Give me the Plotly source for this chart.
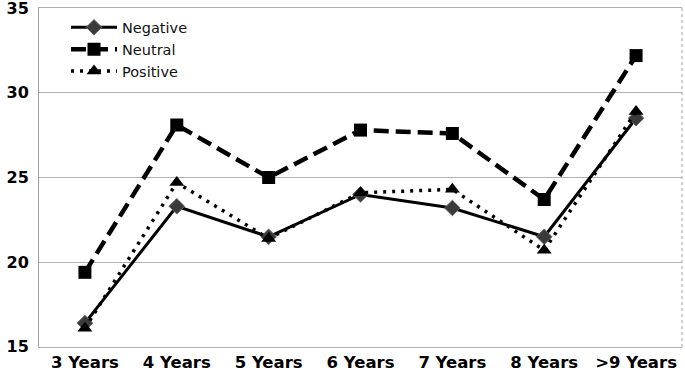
import plotly.graph_objects as go

categories = ["3 Years", "4 Years", "5 Years", "6 Years", "7 Years", "8 Years", ">9 Years"]
negative = [16.4, 23.3, 21.5, 24.0, 23.2, 21.5, 28.5]
neutral = [19.4, 28.1, 25.0, 27.8, 27.6, 23.7, 32.2]
positive = [16.1, 24.7, 21.4, 24.1, 24.3, 20.7, 28.9]
y_ticks = [15, 20, 25, 30, 35]

fig = go.Figure()
fig.add_trace(go.Scatter(
    x=categories, y=negative, name="Negative", mode="lines+markers",
    line=dict(color="black", width=3, dash="solid"),
    marker=dict(symbol="diamond", size=12, color="#3a3a3a", line=dict(color="#666", width=1)),
))
fig.add_trace(go.Scatter(
    x=categories, y=neutral, name="Neutral", mode="lines+markers",
    line=dict(color="black", width=4.5, dash="15px,7px"),
    marker=dict(symbol="square", size=13, color="black"),
))
fig.add_trace(go.Scatter(
    x=categories, y=positive, name="Positive", mode="lines+markers",
    line=dict(color="black", width=3.5, dash="3px,6px"),
    marker=dict(symbol="triangle-up", size=13, color="black"),
))

fig.update_layout(
    width=685, height=371,
    margin=dict(l=39, r=3, t=8, b=24),
    paper_bgcolor="white", plot_bgcolor="white",
    font=dict(family="DejaVu Sans", color="black"),
    showlegend=True,
    legend=dict(
        x=0.042, y=0.99, xanchor="left", yanchor="top",
        bgcolor="rgba(0,0,0,0)", font=dict(size=14.5, family="DejaVu Sans", color="#111"),
        itemwidth=46, tracegroupgap=0,
    ),
    xaxis=dict(
        type="category", categoryorder="array", categoryarray=categories,
        range=[-0.5, 6.5], showgrid=False, zeroline=False,
        showline=True, mirror=True, linecolor="#b0b0b0", linewidth=1,
        ticks="", tickfont=dict(size=16.5, family="DejaVu Sans", weight="bold", color="black"),
        ticklabelstandoff=0, automargin=False, ticklabeloverflow="allow",
    ),
    yaxis=dict(
        range=[14.99, 35.01], tickvals=y_ticks, showgrid=True, gridcolor="#b0b0b0", gridwidth=1,
        zeroline=False, showline=True, linecolor="#a0a0a0", linewidth=1,
        ticks="", tickfont=dict(size=16, family="DejaVu Sans", weight="bold", color="black"),
        ticklabelstandoff=6, automargin=False, ticklabeloverflow="allow",
    ),
)
fig.add_shape(type="line", xref="paper", yref="paper", x0=1, x1=1, y0=0, y1=1,
              line=dict(color="#a0a0a0", width=1, dash="dot"))

fig.write_html("out.html", config={"displayModeBar": False},
               post_script="document.body.style.margin='0';document.body.style.padding='0';")
